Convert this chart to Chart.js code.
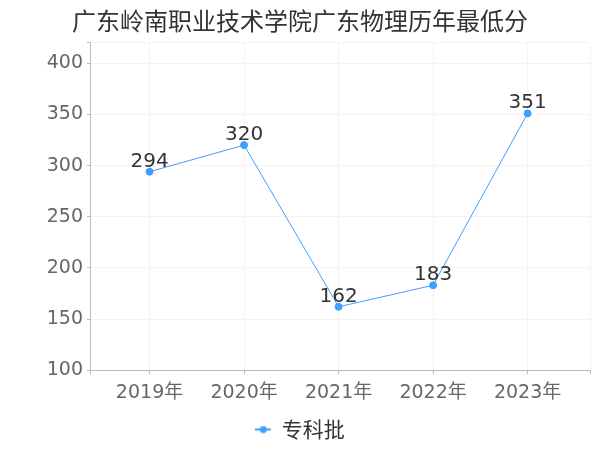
<!DOCTYPE html>
<html lang="zh">
  <head>
    <meta charset="UTF-8" />
    <title>广东岭南职业技术学院广东物理历年最低分</title>
    <script src="https://cdn.jsdelivr.net/npm/chart.js"></script>
    <style>
      body { margin: 0; background: #fff; }
    </style>
  </head>
  <body>
    <canvas id="scoreChart" width="600" height="450"></canvas>

    <script>
      const years = ["2019年", "2020年", "2021年", "2022年", "2023年"];
      const scores = [294, 320, 162, 183, 351];
      const yTicks = [100, 150, 200, 250, 300, 350, 400];
      const seriesName = "专科批";

      const font = "'DejaVu Sans', 'Noto Sans CJK SC', sans-serif";
      const cjkFont = "'Noto Sans CJK SC', sans-serif";
      const blue = "#409eff";

      // legend marker: short line with a dot on it
      const marker = document.createElement("canvas");
      marker.width = 16;
      marker.height = 8;
      const mctx = marker.getContext("2d");
      mctx.strokeStyle = blue;
      mctx.lineWidth = 2;
      mctx.beginPath();
      mctx.moveTo(0, 4);
      mctx.lineTo(16, 4);
      mctx.stroke();
      mctx.fillStyle = blue;
      mctx.beginPath();
      mctx.arc(8, 4, 3.5, 0, 2 * Math.PI);
      mctx.fill();

      // numbers above each point
      const valueLabels = {
        id: "valueLabels",
        afterDatasetsDraw(chart) {
          const ctx = chart.ctx;
          const meta = chart.getDatasetMeta(0);
          ctx.save();
          ctx.font = "20px " + font;
          ctx.fillStyle = "#333";
          ctx.textAlign = "center";
          ctx.textBaseline = "alphabetic";
          meta.data.forEach((p, i) => {
            ctx.fillText(String(scores[i]), p.x, p.y - 5);
          });
          ctx.restore();
        },
      };

      new Chart(document.getElementById("scoreChart"), {
        type: "line",
        data: {
          datasets: [
            {
              label: seriesName,
              data: scores.map((v, i) => ({ x: i, y: v })),
              borderColor: blue,
              backgroundColor: blue,
              borderWidth: 1,
              pointRadius: 3.5,
              pointHoverRadius: 3.5,
              tension: 0,
            },
          ],
        },
        options: {
          responsive: false,
          animation: false,
          layout: { padding: { left: 10, right: 10, top: 0, bottom: 0 } },
          plugins: {
            title: {
              display: true,
              text: "广东岭南职业技术学院广东物理历年最低分",
              color: "#333",
              font: { family: cjkFont, size: 24, weight: "normal" },
              padding: { top: 6, bottom: 8 },
            },
            legend: {
              position: "bottom",
              labels: {
                usePointStyle: true,
                pointStyle: marker,
                pointStyleWidth: 16,
                color: "#333",
                font: { family: cjkFont, size: 21 },
                padding: 8,
              },
            },
            tooltip: { enabled: false },
          },
          scales: {
            x: {
              type: "linear",
              min: -0.63,
              max: 4.66,
              afterBuildTicks: (s) => {
                s.ticks = [{ value: -0.63 }]
                  .concat(years.map((_, i) => ({ value: i })))
                  .concat([{ value: 4.66 }]);
              },
              ticks: {
                autoSkip: false,
                maxRotation: 0,
                color: "#666",
                font: { family: font, size: 19 },
                padding: 7,
                callback: (v) => (Number.isInteger(v) ? years[v] : ""),
              },
              grid: { color: "#f3f3f3", tickColor: "#bbb", tickLength: 4 },
              border: { color: "#bbb" },
            },
            y: {
              min: 100,
              max: 420,
              afterFit: (s) => {
                s.width = 80;
              },
              afterBuildTicks: (s) => {
                s.ticks = yTicks.map((v) => ({ value: v })).concat([{ value: 420 }]);
              },
              ticks: {
                color: "#666",
                font: { family: font, size: 19 },
                padding: 4,
                callback: (v) => (v === 420 ? "" : v),
              },
              grid: { color: "#f3f3f3", tickColor: "#bbb", tickLength: 3 },
              border: { color: "#bbb" },
            },
          },
        },
        plugins: [valueLabels],
      });
    </script>
  </body>
</html>
